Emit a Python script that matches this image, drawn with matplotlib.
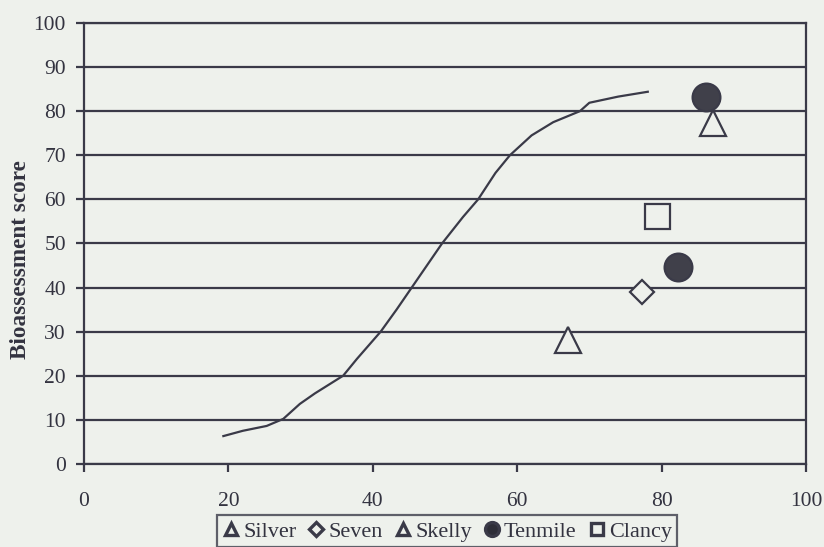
import matplotlib
matplotlib.use("Agg")
import matplotlib.pyplot as plt
from matplotlib.lines import Line2D

# Curve data
curve_x = [19.3, 22, 25.3, 27.6, 29.9, 32, 35.9, 37.8, 41.1, 43.3, 45.4, 47.5,
           49.6, 52.5, 54.6, 57, 59, 62, 65, 68.7, 70, 74, 78.1]
curve_y = [6.3, 7.5, 8.6, 10.2, 13.6, 16, 20, 23.8, 30, 35, 40, 45,
           50, 56, 60, 66, 70, 74.5, 77.5, 80, 81.9, 83.3, 84.4]

# Site data
silver_x, silver_y = [67.0], [28.0]
seven_x, seven_y = [77.3], [39.0]
skelly_x, skelly_y = [87.1], [77.4]
tenmile_x, tenmile_y = [82.3, 86.1], [44.6, 83.3]
clancy_x, clancy_y = [79.4], [56.3]

series_names = ["Silver", "Seven", "Skelly", "Tenmile", "Clancy"]
x_ticks = [0, 20, 40, 60, 80, 100]
y_ticks = [0, 10, 20, 30, 40, 50, 60, 70, 80, 90, 100]

ink = "#3a3a48"
bg = "#eef1ec"
plt.rcParams['font.family'] = ['Liberation Serif', 'DejaVu Serif']

fig = plt.figure(figsize=(8.24, 5.47), dpi=100, facecolor=bg)
ax = fig.add_axes([0.102, 0.152, 0.876, 0.806])
ax.set_facecolor(bg)

for yv in y_ticks:
    ax.axhline(yv, color=ink, lw=1.6, zorder=1)

ax.plot(curve_x, curve_y, color=ink, lw=1.6, zorder=2)

mk = dict(linestyle='none', markeredgecolor=ink, markeredgewidth=1.6, zorder=3)
ax.plot(silver_x, silver_y, marker='^', markersize=19, markerfacecolor=bg, **mk)
ax.plot(seven_x, seven_y, marker='D', markersize=12.5, markerfacecolor=bg, **mk)
ax.plot(skelly_x, skelly_y, marker='^', markersize=19, markerfacecolor=bg, **mk)
ax.plot(tenmile_x, tenmile_y, marker='o', markersize=20, markerfacecolor='#40404a', **mk)
ax.plot(clancy_x, clancy_y, marker='s', markersize=18, markerfacecolor=bg, **mk)

ax.set_xlim(0, 100)
ax.set_ylim(0, 100)
ax.set_xticks(x_ticks)
ax.set_yticks(y_ticks)
ax.tick_params(axis='both', colors=ink, length=6, width=1.6, direction='out',
               labelsize=15.5, labelcolor='#333340')
ax.tick_params(axis='x', pad=14)
ax.tick_params(axis='y', pad=7)
for s in ax.spines.values():
    s.set_color(ink)
    s.set_linewidth(1.6)

ax.set_ylabel("Bioassessment score", fontsize=16.7, fontweight='bold', color='#333340')
ax.yaxis.set_label_coords(-0.0735, 0.4626)

lk = dict(linestyle='none', markeredgecolor=ink, markeredgewidth=2.4, markersize=9)
handles = [
    Line2D([], [], marker='^', markerfacecolor=bg, **lk),
    Line2D([], [], marker='D', markerfacecolor=bg, **dict(lk, markersize=7)),
    Line2D([], [], marker='^', markerfacecolor=bg, **lk),
    Line2D([], [], marker='o', markerfacecolor='#2e2e38', **dict(lk, markersize=10)),
    Line2D([], [], marker='s', markerfacecolor=bg, **lk),
]
leg = fig.legend(handles, series_names, loc='upper center', bbox_to_anchor=(0.5425, 0.078),
                 ncol=5, frameon=True, fancybox=False, edgecolor=ink, facecolor=bg,
                 fontsize=16, handlelength=0.8, handletextpad=0.15, columnspacing=0.5,
                 borderpad=0.25, labelcolor='#333340')
leg.get_frame().set_linewidth(1.6)

fig.savefig("out.png", dpi=100, facecolor=bg)
